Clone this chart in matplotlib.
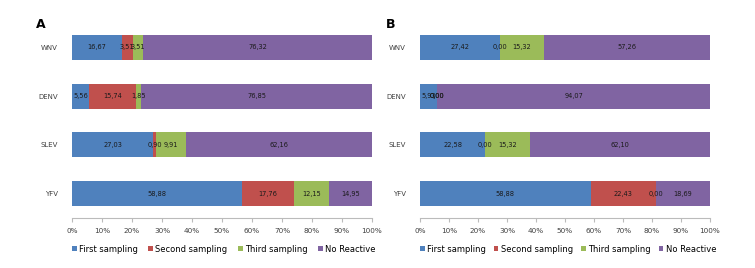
import matplotlib.pyplot as plt
import numpy as np

viruses = ["WNV", "DENV", "SLEV", "YFV"]
series = ["First sampling", "Second sampling", "Third sampling", "No Reactive"]
colors = ["#4F81BD", "#C0504D", "#9BBB59", "#8064A2"]

# panel A
a_first = [16.67, 5.56, 27.03, 58.88]
a_second = [3.51, 15.74, 0.90, 17.76]
a_third = [3.51, 1.85, 9.91, 12.15]
a_none = [76.32, 76.85, 62.16, 14.95]

# panel B
b_first = [27.42, 5.93, 22.58, 58.88]
b_second = [0.00, 0.00, 0.00, 22.43]
b_third = [15.32, 0.00, 15.32, 0.00]
b_none = [57.26, 94.07, 62.10, 18.69]

fig = plt.figure(figsize=(7.55, 2.68), dpi=100)
axA = fig.add_axes([72/755, 1-218/268, 300/755, 195/268])
axB = fig.add_axes([420/755, 1-218/268, 290/755, 195/268])


def draw(ax, data, colsp):
    data = np.array(data)
    pct = data / data.sum(axis=0) * 100
    y = np.arange(len(viruses))
    left = np.zeros(len(viruses))
    for i in range(4):
        ax.barh(y, pct[i], left=left, height=0.51, color=colors[i], label=series[i])
        for j in range(len(viruses)):
            lbl = f"{data[i][j]:.2f}".replace(".", ",")
            ax.text(left[j] + pct[i][j] / 2, y[j], lbl, ha="center", va="center",
                    fontsize=4.8, color="#1a1a1a")
        left += pct[i]
    ax.set_ylim(3.5, -0.5)
    ax.set_xlim(0, 100)
    ax.set_yticks(y)
    ax.set_yticklabels(viruses, fontsize=5, color="#404040")
    ax.set_xticks(np.arange(0, 101, 10))
    ax.set_xticklabels([f"{v}%" for v in range(0, 101, 10)], fontsize=5.2, color="#404040")
    ax.tick_params(axis="y", length=0, pad=10)
    ax.tick_params(axis="x", length=3, color="#bbbbbb", pad=4)
    for s in ["top", "right", "left"]:
        ax.spines[s].set_visible(False)
    ax.spines["bottom"].set_color("#bbbbbb")
    ax.legend(loc="center left", bbox_to_anchor=(0, -0.16), ncol=4, frameon=False,
              fontsize=6, handlelength=0.55, handleheight=0.55, handletextpad=0.3,
              columnspacing=colsp, borderpad=0, borderaxespad=0)


draw(axA, [a_first, a_second, a_third, a_none], 1.25)
draw(axB, [b_first, b_second, b_third, b_none], 0.95)

fig.text(36/755, 1-25/268, "A", fontsize=9, fontweight="bold", va="center")
fig.text(386/755, 1-25/268, "B", fontsize=9, fontweight="bold", va="center")

fig.savefig("out.png", dpi=100)
